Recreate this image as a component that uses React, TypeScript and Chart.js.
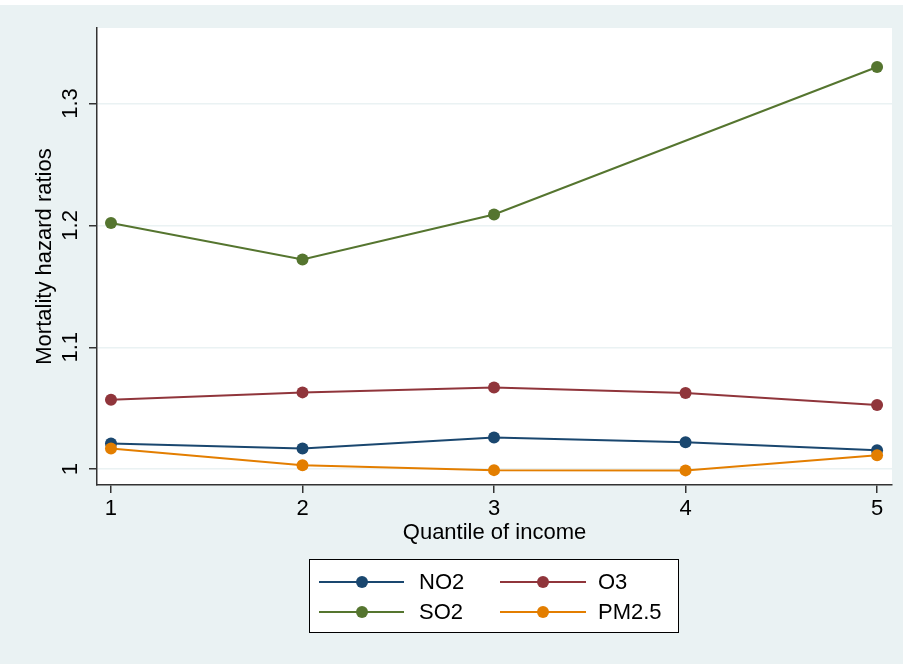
import React, { useEffect, useRef } from "react";
import { Chart, registerables } from "chart.js";

Chart.register(...registerables);

const quantiles = [1, 2, 3, 4, 5];
const no2 = [1.021, 1.017, 1.026, 1.022, 1.0155];
const o3 = [1.057, 1.063, 1.067, 1.0625, 1.0527];
const so2 = [1.202, 1.172, 1.209, null, 1.33];
const pm25 = [1.017, 1.0033, 0.9992, 0.999, 1.0115];
const seriesNames = ["NO2", "O3", "SO2", "PM2.5"];
const seriesColors = ["#1a476f", "#90353b", "#55752f", "#e37e00"];
const yTicks = [1, 1.1, 1.2, 1.3];
const yTickLabels = ["1", "1.1", "1.2", "1.3"];
const xTicks = [1, 2, 3, 4, 5];
const xTickLabels = ["1", "2", "3", "4", "5"];
const xTitle = "Quantile of income";
const yTitle = "Mortality hazard ratios";

const BG = "#eaf2f3";
const AXIS = "#333333";
const FONT = '"Liberation Sans", Arial, Helvetica, sans-serif';
const FS = 22;

export default function App() {
  const ref = useRef<HTMLCanvasElement | null>(null);

  useEffect(() => {
    document.body.style.margin = "0";
    const canvas = ref.current;
    if (!canvas) return;

    const allSeries = [no2, o3, so2, pm25];
    const datasets = allSeries.map((vals, i) => ({
      label: seriesNames[i],
      data: quantiles.map((q, j) => ({ x: q, y: vals[j] })),
      borderColor: seriesColors[i],
      backgroundColor: seriesColors[i],
      pointBackgroundColor: seriesColors[i],
      pointBorderWidth: 0,
      pointRadius: 6,
      borderWidth: 2,
      spanGaps: true,
      tension: 0,
      order: 4 - i,
      clip: false as any,
    }));

    const decor = {
      id: "decor",
      beforeDraw(chart: any) {
        const ctx = chart.ctx;
        const ca = chart.chartArea;
        ctx.save();
        ctx.fillStyle = "#ffffff";
        ctx.fillRect(0, 0, chart.width, chart.height);
        ctx.fillStyle = BG;
        ctx.fillRect(0, 5, 903, chart.height - 5);
        ctx.fillStyle = "#ffffff";
        ctx.fillRect(ca.left, ca.top, ca.right - ca.left, ca.bottom - ca.top);
        ctx.restore();
      },
      afterDraw(chart: any) {
        const ctx = chart.ctx;
        const ca = chart.chartArea;
        const xs = chart.scales.x;
        const ys = chart.scales.y;
        ctx.save();
        ctx.fillStyle = "#000000";
        ctx.font = `${FS}px ${FONT}`;
        // y tick labels (rotated)
        yTicks.forEach((v, i) => {
          const py = ys.getPixelForValue(v);
          ctx.save();
          ctx.translate(71, py);
          ctx.rotate(-Math.PI / 2);
          ctx.textAlign = "center";
          ctx.textBaseline = "middle";
          ctx.fillText(yTickLabels[i], 0, 0);
          ctx.restore();
        });
        // x tick labels
        xTicks.forEach((v, i) => {
          const px = xs.getPixelForValue(v);
          ctx.textAlign = "center";
          ctx.textBaseline = "middle";
          ctx.fillText(xTickLabels[i], px, 509);
        });
        // axis titles
        ctx.textAlign = "center";
        ctx.textBaseline = "middle";
        ctx.fillText(xTitle, (ca.left + ca.right) / 2, 533);
        ctx.save();
        ctx.translate(45, (ca.top + ca.bottom) / 2);
        ctx.rotate(-Math.PI / 2);
        ctx.fillText(yTitle, 0, 0);
        ctx.restore();

        // legend
        const lx = 309, ly = 559, lw = 369, lh = 73;
        ctx.fillStyle = "#ffffff";
        ctx.fillRect(lx, ly, lw, lh);
        ctx.strokeStyle = "#000000";
        ctx.lineWidth = 1;
        ctx.strokeRect(lx + 0.5, ly + 0.5, lw, lh);
        const cols = [
          { l0: 319, l1: 404, m: 362, t: 419 },
          { l0: 500, l1: 586, m: 543, t: 598 },
        ];
        const rows = [582, 612];
        seriesNames.forEach((name, i) => {
          const c = cols[i % 2];
          const r = rows[Math.floor(i / 2)];
          ctx.strokeStyle = seriesColors[i];
          ctx.lineWidth = 2;
          ctx.beginPath();
          ctx.moveTo(c.l0, r);
          ctx.lineTo(c.l1, r);
          ctx.stroke();
          ctx.fillStyle = seriesColors[i];
          ctx.beginPath();
          ctx.arc(c.m, r, 6, 0, Math.PI * 2);
          ctx.fill();
          ctx.fillStyle = "#000000";
          ctx.textAlign = "left";
          ctx.textBaseline = "middle";
          ctx.fillText(name, c.t, r + 1);
        });
        ctx.restore();
      },
    };

    const chart = new Chart(canvas, {
      type: "line",
      data: { datasets: datasets as any },
      options: {
        responsive: false,
        animation: false,
        layout: { padding: { left: 0, top: 28, right: 12, bottom: 0 } },
        plugins: { legend: { display: false }, tooltip: { enabled: false } },
        scales: {
          x: {
            type: "linear",
            min: 0.927,
            max: 5.078,
            afterBuildTicks: (s: any) => {
              s.ticks = xTicks.map((v) => ({ value: v }));
            },
            afterFit: (s: any) => {
              s.height = 179;
            },
            ticks: { display: false },
            grid: {
              drawOnChartArea: false,
              drawTicks: true,
              tickLength: 8,
              tickColor: AXIS,
              lineWidth: 1.5,
            },
            border: { display: true, color: AXIS, width: 1.5 },
          },
          y: {
            type: "linear",
            min: 0.987,
            max: 1.362,
            afterBuildTicks: (s: any) => {
              s.ticks = yTicks.map((v) => ({ value: v }));
            },
            afterFit: (s: any) => {
              s.width = 97;
            },
            ticks: { display: false },
            grid: {
              drawOnChartArea: true,
              color: BG,
              drawTicks: true,
              tickLength: 8,
              tickColor: AXIS,
              lineWidth: 1.5,
            },
            border: { display: true, color: AXIS, width: 1.5 },
          },
        },
      },
      plugins: [decor],
    });

    return () => chart.destroy();
  }, []);

  return (
    <div style={{ width: 904, height: 664 }}>
      <canvas ref={ref} width={904} height={664} style={{ display: "block" }} />
    </div>
  );
}
